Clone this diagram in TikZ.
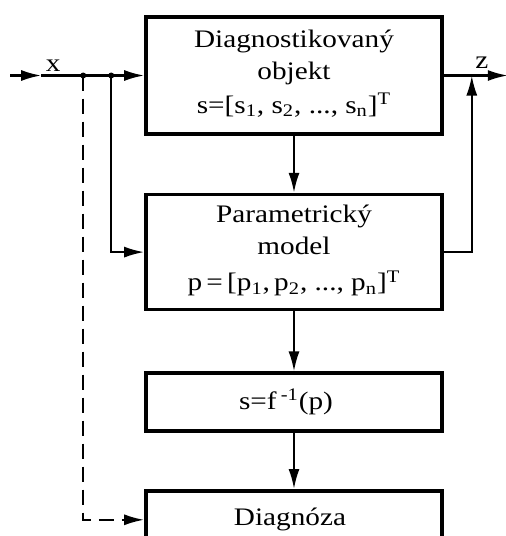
\documentclass[tikz,border=0pt]{standalone}
\usepackage{fontspec}
\setmainfont{Liberation Serif}[FakeStretch=1.16]
\usetikzlibrary{arrows.meta,positioning}

\begin{document}
\begin{tikzpicture}[
    block/.style={draw, line width=1.8pt, minimum width=148pt, align=center,
                  inner sep=2pt, font=\fontsize{12.6}{16}\selectfont},
    flow/.style={line width=1.1pt, -{Latex[length=10pt,width=5.5pt]}},
    lbl/.style={font=\fontsize{12.6}{16}\selectfont, inner sep=1pt}
  ]
  \useasboundingbox (0,0) rectangle (253pt,-268pt);
  % blocks
  \node[block, minimum height=58.5pt] (obj) at (147pt,-37.75pt)
    {Diagnostikovaný\\ objekt\\[1pt]
     s=[s\textsubscript{1}, s\textsubscript{2}, ..., s\textsubscript{n}]\textsuperscript{T}\rule[-4pt]{0pt}{0pt}};
  \node[block, minimum height=57.5pt, below=28.5pt of obj] (model)
    {Parametrický\\ model\\[2pt]
     p\,=\,[p\textsubscript{1},\,p\textsubscript{2}, ..., p\textsubscript{n}]\textsuperscript{T}\rule[-4pt]{0pt}{0pt}};
  \node[block, minimum height=29pt, below=30pt of model] (inv)
    {s=f\,\textsuperscript{-1}(p)\hspace{8pt}};
  \node[block, minimum height=29pt, below=28pt of inv] (diag) {Diagnóza\hspace{4pt}};
  % signal points
  \coordinate (in) at ([xshift=-67pt]obj.west);
  \coordinate (xin) at ([xshift=15.5pt]in);
  \coordinate (b1) at ([xshift=-30.5pt]obj.west);
  \coordinate (b2) at ([xshift=-16.5pt]obj.west);
  \coordinate (out) at ([xshift=32pt]obj.east);
  \coordinate (fb) at ([xshift=14pt]obj.east);
  % connections
  \draw[flow] (in) -- (xin);
  \draw[flow] (xin) -- (obj.west);
  \draw[flow] (b2) |- (model.west);
  \draw[flow, dash pattern=on 7.5pt off 4pt] (b1) |- (diag.west);
  \draw[flow] (obj.east) -- (out);
  \draw[flow] (model.east) -| (fb);
  \draw[flow] (obj.south) -- (model.north);
  \draw[flow] (model.south) -- (inv.north);
  \draw[flow] (inv.south) -- (diag.north);
  \fill (b1) circle (1.5pt) (b2) circle (1.5pt);
  % labels
  \node[lbl, anchor=south] (xl) at ([xshift=21.5pt,yshift=1pt]in) {x};
  \node[lbl, anchor=south] (zl) at ([xshift=19pt,yshift=2.5pt]obj.east) {z};
\end{tikzpicture}
\end{document}
